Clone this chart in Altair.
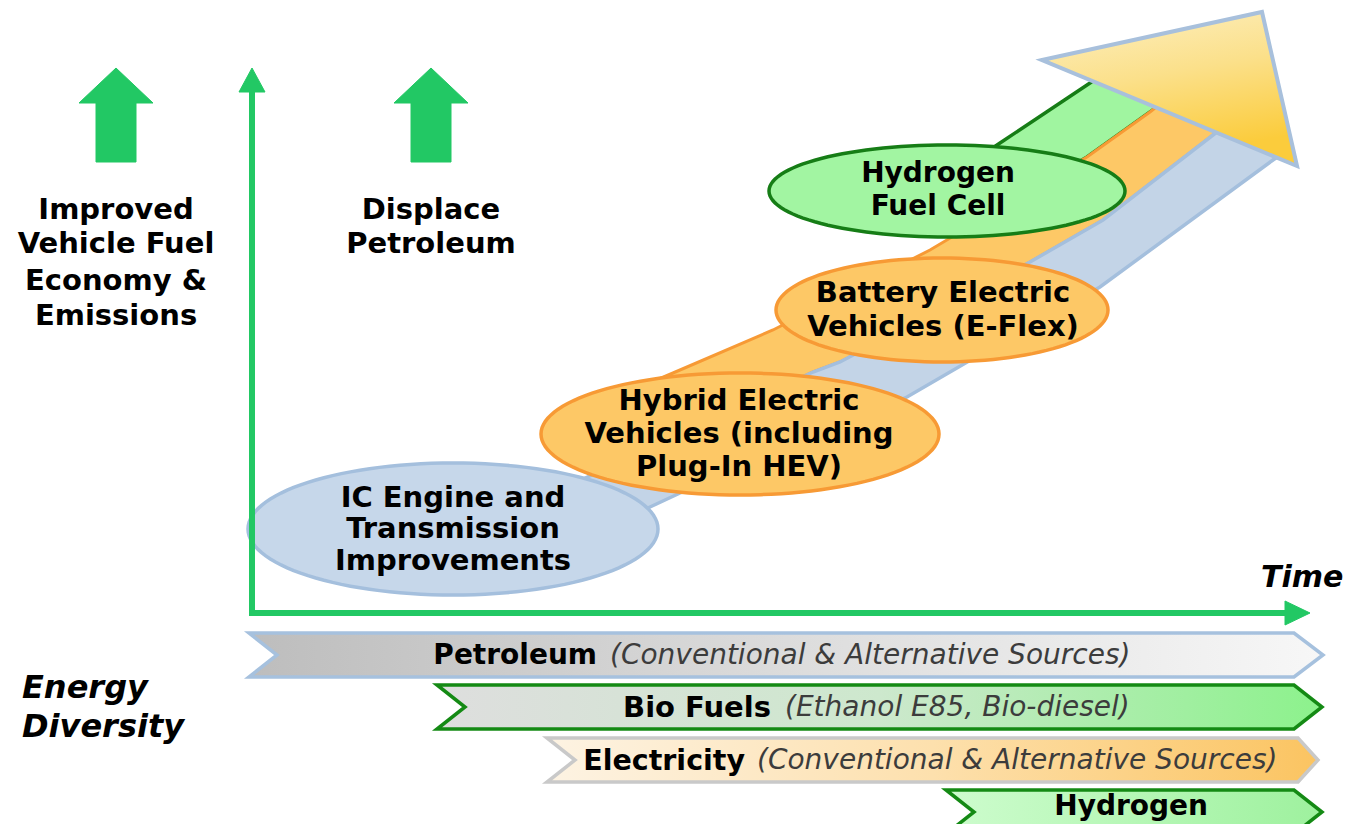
import altair as alt
import numpy as np
import pandas as pd

# ---------------- data (reference pixel coordinates) ----------------
HEAD_LEFT = ["Improved", "Vehicle Fuel", "Economy &", "Emissions"]
HEAD_LEFT_X = 116
HEAD_LEFT_Y = [210, 244, 281, 316]
HEAD_MID = ["Displace", "Petroleum"]
HEAD_MID_X = 431
HEAD_MID_Y = [210, 244]
ENERGY = ["Energy", "Diversity"]
ENERGY_X = 22
ENERGY_Y = [688, 727]
TIME_LABEL = "Time"
TIME_X, TIME_Y = 1261, 578

UP_ARROW_X = [116, 431]
UP_TIP_Y, UP_HEAD_Y, UP_BOTTOM_Y = 68, 103, 162
UP_HEAD_HALF, UP_SHAFT_HALF = 37, 20

AXIS_X, AXIS_Y = 252, 613
AXIS_TOP, AXIS_RIGHT = 68, 1310

ELLIPSE_CX = [453, 740, 942, 947]
ELLIPSE_CY = [529, 434, 310, 191]
ELLIPSE_RX = [205, 199, 166, 178]
ELLIPSE_RY = [66, 61, 52, 46]
ELLIPSE_FILL = ["#c6d7ea", "#fdc866", "#fdc866", "#a2f5a2"]
ELLIPSE_STROKE = ["#a4bfdd", "#f79a35", "#f79a35", "#167d16"]
ELLIPSE_LINES = [
    ["IC Engine and", "Transmission", "Improvements"],
    ["Hybrid Electric", "Vehicles (including", "Plug-In HEV)"],
    ["Battery Electric", "Vehicles (E-Flex)"],
    ["Hydrogen", "Fuel Cell"],
]
ELLIPSE_TEXT_X = [453, 739, 943, 938]
ELLIPSE_TEXT_Y = [[498, 529, 561], [401, 434, 467], [293, 327], [174, 207]]
ELLIPSE_TEXT_SIZE = [29, 29, 29, 28]

# curved arrow: four edges of three stripes
E0_X = [960, 1000, 1090, 1100]
E0_Y = [170, 143, 83, 76]
E1_X = [640, 673, 773, 930, 1087, 1150, 1165]
E1_Y = [387, 373, 330, 250, 157, 112, 100]
E2_X = [570, 620, 813, 840, 1030, 1103, 1213, 1225]
E2_Y = [485, 462, 372, 362, 262, 220, 135, 126]
E3_X = [570, 650, 680, 907, 1000, 1100, 1273, 1285]
E3_Y = [545, 507, 493, 397, 343, 287, 160, 152]
TRI_X = [1042, 1262, 1297]
TRI_Y = [60, 12, 166]

BAR_BOLD = ["Petroleum", "Bio Fuels", "Electricity", "Hydrogen"]
BAR_NOTE = ["(Conventional & Alternative Sources)", "(Ethanol E85, Bio-diesel)",
            "(Conventional & Alternative Sources)", ""]
BAR_BOLD_END = [597, 771, 745, 1208]
BAR_NOTE_START = [610, 785, 757, 1220]
BAR_TEXT_Y = [656, 708, 761, 807]
BAR_TEXT_SIZE = [28, 29, 28.5, 28]
BAR_LEFT = [249, 437, 547, 946]
BAR_RIGHT = [1294, 1294, 1298, 1294]
BAR_TIP = [1323, 1322, 1318, 1322]
BAR_TOP = [633, 685, 738, 790]
BAR_BOTTOM = [677, 729, 782, 834]
BAR_NOTCH = 28
BAR_STROKE = ["#a6c1de", "#148a14", "#c9c9c9", "#148a14"]
BAR_COLORS = [
    ["#bdbdbd", "#dcdcdc", "#f7f7f7"],
    ["#dedede", "#cde8cd", "#8cf28c"],
    ["#fdf3e3", "#fde0ad", "#fbc461"],
    ["#cdfccd", "#b6f7b6", "#9ef19e"],
]

GREEN = "#22c864"

# ---------------- helpers ----------------
X = alt.X("x:Q", scale=alt.Scale(domain=[8, 1343], nice=False, zero=False), axis=None)
Y = alt.Y("y:Q", scale=alt.Scale(domain=[8, 824], nice=False, zero=False, reverse=True), axis=None)


def poly(xs, ys, fill, stroke, sw):
    df = pd.DataFrame({"x": xs, "y": ys, "i": range(len(xs))})
    return alt.Chart(df).mark_line(
        fill=fill, stroke=stroke, strokeWidth=sw, interpolate="linear-closed",
        strokeJoin="miter"
    ).encode(x=X, y=Y, order="i:Q")


def hgrad(colors):
    n = len(colors) - 1
    return alt.Gradient(gradient="linear", x1=0, x2=1, y1=0, y2=0,
                        stops=[alt.GradientStop(color=c, offset=k / n) for k, c in enumerate(colors)])


def texts(labels, xs, ys, size, weight="bold", style="normal", color="#000000", align="center"):
    df = pd.DataFrame({"x": xs, "y": ys, "t": labels})
    return alt.Chart(df).mark_text(
        font="DejaVu Sans", fontSize=size, fontWeight=weight, fontStyle=style,
        color=color, align=align, baseline="middle"
    ).encode(x=X, y=Y, text="t:N")


layers = []

# ---- curved stripes (green, orange, blue) ----
def band(ux, uy, lx, ly, start):
    lx2 = [start] + [v for v in lx if v > start]
    ly2 = [float(np.interp(start, lx, ly))] + [ly[k] for k, v in enumerate(lx) if v > start]
    xs = list(ux) + lx2[::-1]
    ys = list(uy) + ly2[::-1]
    return xs, ys

gx, gy = band(E0_X, E0_Y, E1_X, E1_Y, E0_X[0])
layers.append(poly(gx, gy, "#a0f5a0", "#167d16", 3.5))
ox, oy = band(E1_X, E1_Y, E2_X, E2_Y, E1_X[0])
layers.append(poly(ox, oy, "#fdc866", "#f79a35", 3))
bx, by = band(E2_X, E2_Y, E3_X, E3_Y, E2_X[0])
layers.append(poly(bx, by, "#c3d4e7", "#a4bfdd", 3.5))

# ---- arrow head ----
tri_grad = alt.Gradient(gradient="linear", x1=0, x2=0.3, y1=0, y2=1,
                        stops=[alt.GradientStop(color="#fdf0c4", offset=0),
                               alt.GradientStop(color="#fbe08a", offset=0.5),
                               alt.GradientStop(color="#fbcc3c", offset=1)])
layers.append(poly(TRI_X, TRI_Y, tri_grad, "#a8c0dc", 4))

# ---- ellipses ----
t = np.linspace(0, 2 * np.pi, 120, endpoint=False)
for k in range(len(ELLIPSE_CX)):
    ex = ELLIPSE_CX[k] + ELLIPSE_RX[k] * np.cos(t)
    ey = ELLIPSE_CY[k] + ELLIPSE_RY[k] * np.sin(t)
    layers.append(poly(ex, ey, ELLIPSE_FILL[k], ELLIPSE_STROKE[k], 3.5))
    n = len(ELLIPSE_LINES[k])
    layers.append(texts(ELLIPSE_LINES[k], [ELLIPSE_TEXT_X[k]] * n, ELLIPSE_TEXT_Y[k],
                        ELLIPSE_TEXT_SIZE[k]))

# ---- axes ----
axis_df = pd.DataFrame({"x": [AXIS_X, AXIS_X - 3], "y": [AXIS_Y + 3, AXIS_Y],
                        "x2": [AXIS_X, AXIS_RIGHT - 24], "y2": [AXIS_TOP + 22, AXIS_Y]})
layers.append(alt.Chart(axis_df).mark_rule(color=GREEN, strokeWidth=6).encode(
    x=X, y=Y, x2="x2:Q", y2="y2:Q"))
layers.append(poly([AXIS_X, AXIS_X + 13, AXIS_X - 13], [AXIS_TOP, AXIS_TOP + 24, AXIS_TOP + 24],
                   GREEN, GREEN, 1))
layers.append(poly([AXIS_RIGHT, AXIS_RIGHT - 25, AXIS_RIGHT - 25], [AXIS_Y, AXIS_Y - 12, AXIS_Y + 12],
                   GREEN, GREEN, 1))

# ---- block up-arrows ----
for cx in UP_ARROW_X:
    ax = [cx, cx + UP_HEAD_HALF, cx + UP_SHAFT_HALF, cx + UP_SHAFT_HALF,
          cx - UP_SHAFT_HALF, cx - UP_SHAFT_HALF, cx - UP_HEAD_HALF]
    ay = [UP_TIP_Y, UP_HEAD_Y, UP_HEAD_Y, UP_BOTTOM_Y, UP_BOTTOM_Y, UP_HEAD_Y, UP_HEAD_Y]
    layers.append(poly(ax, ay, GREEN, GREEN, 1))

# ---- headings ----
layers.append(texts(HEAD_LEFT, [HEAD_LEFT_X] * 4, HEAD_LEFT_Y, 29))
layers.append(texts(HEAD_MID, [HEAD_MID_X] * 2, HEAD_MID_Y, 29))
layers.append(texts(ENERGY, [ENERGY_X] * 2, ENERGY_Y, 32, style="italic", align="left"))
layers.append(texts([TIME_LABEL], [TIME_X], [TIME_Y], 30, style="italic", align="left"))

# ---- energy bars ----
for k in range(len(BAR_BOLD)):
    x0, x1, x2 = BAR_LEFT[k], BAR_RIGHT[k], BAR_TIP[k]
    yt, yb = BAR_TOP[k], BAR_BOTTOM[k]
    ym = (yt + yb) / 2
    layers.append(poly([x0, x1, x2, x1, x0, x0 + BAR_NOTCH], [yt, yt, ym, yb, yb, ym],
                       hgrad(BAR_COLORS[k]), BAR_STROKE[k], 3.5))
    layers.append(texts([BAR_BOLD[k]], [BAR_BOLD_END[k]], [BAR_TEXT_Y[k]], BAR_TEXT_SIZE[k],
                        align="right"))
    if BAR_NOTE[k]:
        layers.append(texts([BAR_NOTE[k]], [BAR_NOTE_START[k]], [BAR_TEXT_Y[k]], 28,
                            weight="normal", style="italic", color="#3c3c3c", align="left"))

chart = alt.layer(*layers).properties(
    width=1335, height=816, padding=0,
    autosize=alt.AutoSizeParams(type="none"),
    background="white",
).configure_view(stroke=None)

chart.save("out.html", embed_options={"renderer": "svg", "actions": False})
